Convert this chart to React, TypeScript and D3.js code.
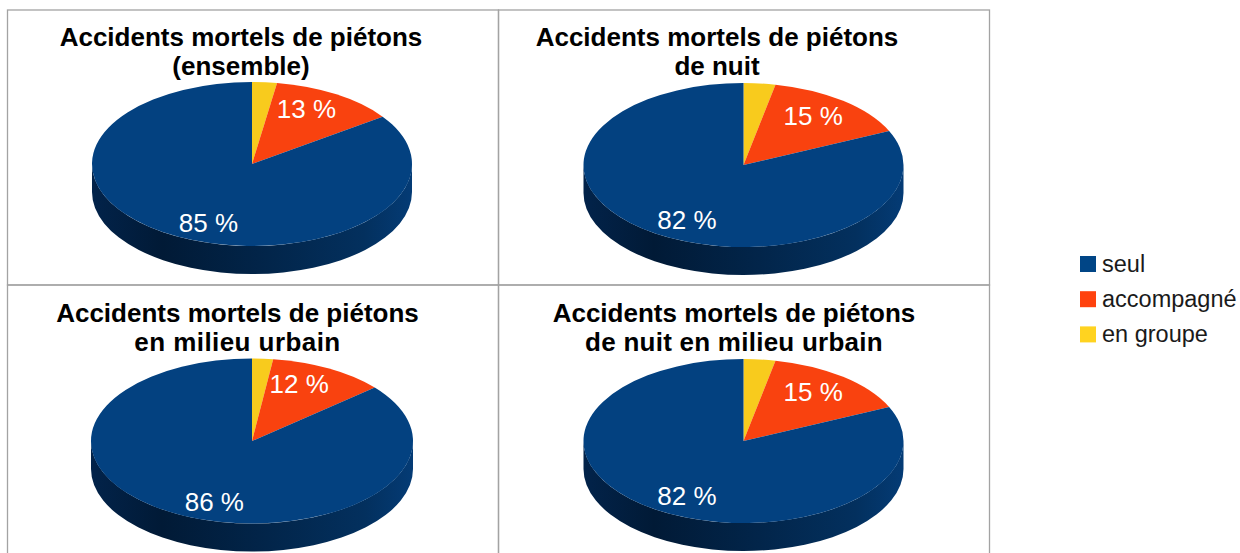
import React from 'react';
import * as d3 from 'd3';

const categories = ['seul', 'accompagné', 'en groupe'];
const colors = ['#034180', '#f9420f', '#f8cb1d'];
const legendColors = ['#004586', '#ff420e', '#ffd320'];

// shares, the printed labels are these values rounded
const ensemble = [84.8, 12.7, 2.5];
const nuit = [81.8, 15.0, 3.2];
const urbain = [86.2, 11.7, 2.1];
const nuitUrbain = [81.8, 15.0, 3.2];

const titles = [
  ['Accidents mortels de piétons', '(ensemble)'],
  ['Accidents mortels de piétons', 'de nuit'],
  ['Accidents mortels de piétons', 'en milieu urbain'],
  ['Accidents mortels de piétons', 'de nuit en milieu urbain'],
];

const panels = [
  { values: ensemble, title: titles[0], box: [7.5, 10, 491, 275], cx: 252, cy: 164, rx: 160, titleX: 241, titleY: 46, spacing: 0 },
  { values: nuit, title: titles[1], box: [498.5, 10, 491, 275], cx: 743.5, cy: 165, rx: 160, titleX: 717, titleY: 46, spacing: 0 },
  { values: urbain, title: titles[2], box: [7.5, 285, 491, 275], cx: 252, cy: 441, rx: 161, titleX: 237.5, titleY: 322, spacing: 0.44 },
  { values: nuitUrbain, title: titles[3], box: [498.5, 285, 491, 275], cx: 743.5, cy: 441, rx: 160, titleX: 734, titleY: 322, spacing: 0.25 },
];

const squash = 82 / 160;
const depth = 28;
const font = '"Liberation Sans", Arial, sans-serif';

const pie = d3.pie<number>().sort(null).value((d) => d);

const Pie = ({ panel, index }: any) => {
  const { values, cx, cy, rx } = panel;
  const ry = rx * squash;
  // blue comes first in the legend but is drawn ending at 12 o'clock
  const ordered = [values[2], values[1], values[0]];
  const orderedColors = [colors[2], colors[1], colors[0]];
  const slices = pie(ordered);
  const arc = d3.arc<d3.PieArcDatum<number>>().innerRadius(0).outerRadius(rx);
  const unitArc = d3.arc<d3.PieArcDatum<number>>().innerRadius(1).outerRadius(1);

  const side = `M${cx - rx},${cy} A${rx},${ry} 0 0 0 ${cx + rx},${cy} V${cy + depth} A${rx},${ry} 0 0 1 ${cx - rx},${cy + depth} Z`;

  return (
    <g>
      <defs>
        <linearGradient id={`side${index}`} gradientUnits="userSpaceOnUse" x1={cx - rx} x2={cx + rx} y1={0} y2={0}>
          <stop offset="0" stopColor="#02234a" />
          <stop offset="0.22" stopColor="#011a36" />
          <stop offset="0.55" stopColor="#02254a" />
          <stop offset="0.85" stopColor="#03305e" />
          <stop offset="1" stopColor="#043b75" />
        </linearGradient>
      </defs>
      <path d={side} fill={`url(#side${index})`} />
      <g transform={`translate(${cx},${cy}) scale(1,${squash})`}>
        {slices.map((s, i) => (
          <path key={i} d={arc(s) as string} fill={orderedColors[i]} />
        ))}
      </g>
      {slices.map((s, i) => {
        if (s.data < 5) return null;
        const [ux, uy] = unitArc.centroid(s);
        // label box sits just inside the rim of its slice
        return (
          <text
            key={i}
            x={cx + ux * rx - Math.sign(ux) * 30}
            y={cy + uy * ry - Math.sign(uy) * 14.5 + 0.5}
            dy="0.35em"
            textAnchor="middle"
            fontFamily={font}
            fontSize={26}
            fill="#ffffff"
          >
            {`${Math.round(s.data)} %`}
          </text>
        );
      })}
    </g>
  );
};

const App = () => {
  return (
    <svg
      width={1240}
      height={553}
      style={{ position: 'absolute', left: 0, top: 0, background: '#ffffff' }}
    >
      {panels.map((p, i) => (
        <rect key={i} x={p.box[0]} y={p.box[1]} width={p.box[2]} height={p.box[3]} fill="none" stroke="#a3a3a3" strokeWidth={1.3} />
      ))}
      {panels.map((p, i) => (
        <g key={i}>
          <Pie panel={p} index={i} />
          {p.title.map((line, j) => (
            <text
              key={j}
              x={p.titleX}
              y={p.titleY + j * 29}
              textAnchor="middle"
              fontFamily={font}
              fontWeight="bold"
              fontSize={26}
              letterSpacing={j === 1 ? p.spacing : 0}
              fill="#000000"
            >
              {line}
            </text>
          ))}
        </g>
      ))}
      {categories.map((c, i) => (
        <g key={c} transform={`translate(1080,${256 + i * 35.2})`}>
          <rect width={16} height={16} fill={legendColors[i]} />
          <text x={22} y={16} fontFamily={font} fontSize={23.5} fill="#1a1a1a">
            {c}
          </text>
        </g>
      ))}
    </svg>
  );
};

export default App;
